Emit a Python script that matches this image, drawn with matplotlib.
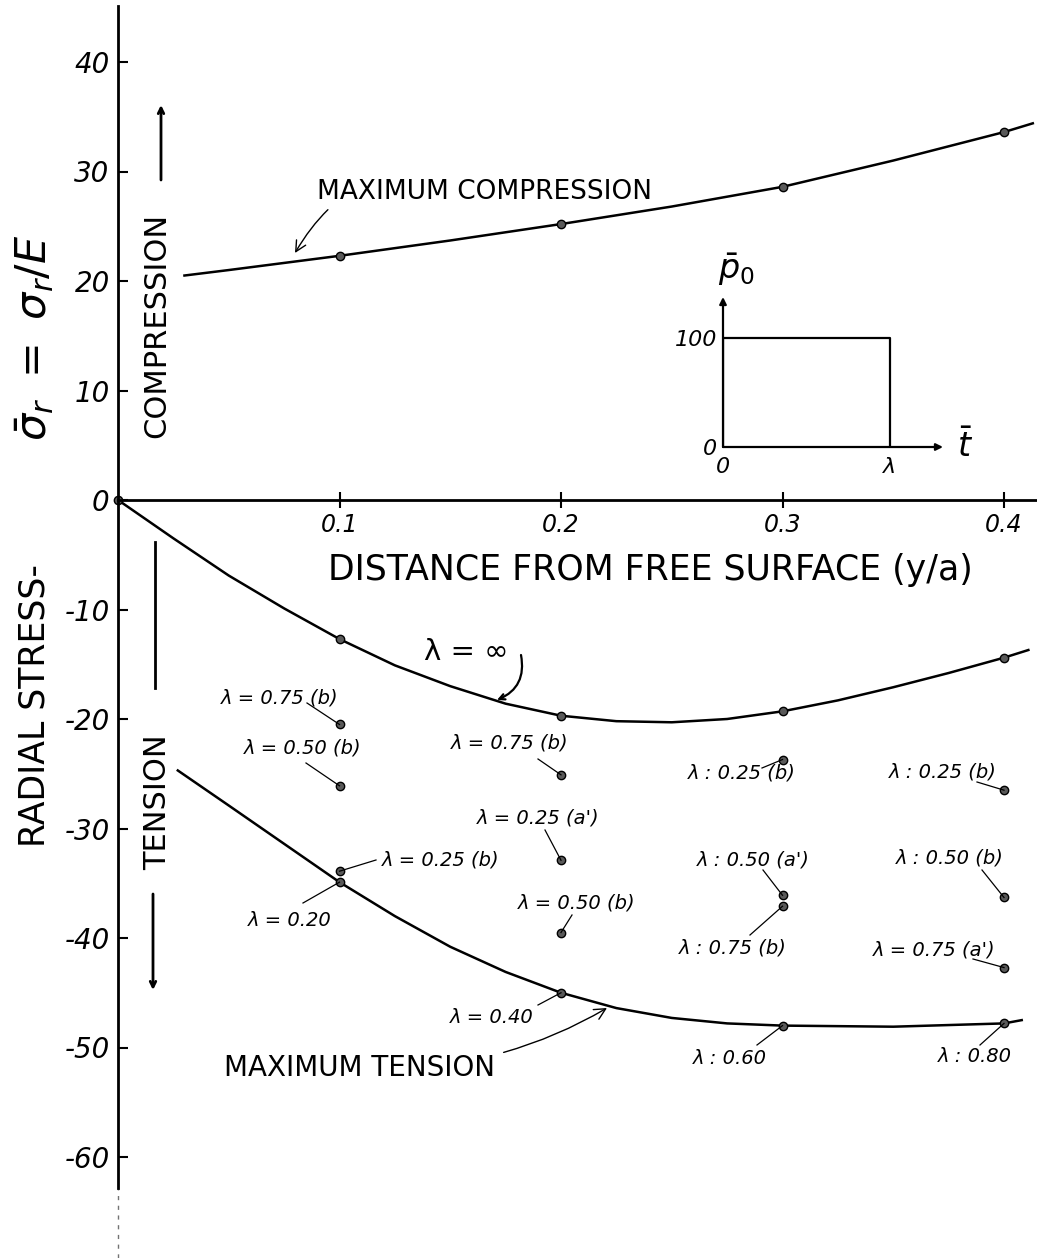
import numpy as np
import matplotlib.pyplot as plt

plt.rcParams['font.family'] = ['DejaVu Sans']

# curves: depth y/a and radial stress sigma_r/E
comp_depth = [0.030, 0.05, 0.1, 0.15, 0.2, 0.25, 0.3, 0.35, 0.4, 0.413]
comp_stress = [20.5, 21.0, 22.3, 23.7, 25.2, 26.8, 28.6, 31.0, 33.6, 34.4]

inf_depth = [0.0, 0.025, 0.05, 0.075, 0.1, 0.125, 0.15, 0.175, 0.2, 0.225, 0.25,
             0.275, 0.3, 0.325, 0.35, 0.375, 0.4, 0.411]
inf_stress = [0.0, -3.5, -6.9, -9.9, -12.7, -15.1, -17.0, -18.6, -19.7, -20.2, -20.3,
              -20.0, -19.3, -18.3, -17.1, -15.8, -14.4, -13.7]

tmax_depth = [0.027, 0.05, 0.075, 0.1, 0.125, 0.15, 0.175, 0.2, 0.225, 0.25, 0.275,
              0.3, 0.35, 0.4, 0.408]
tmax_stress = [-24.7, -27.9, -31.4, -34.9, -38.0, -40.8, -43.1, -45.0, -46.4, -47.3,
               -47.8, -48.0, -48.1, -47.8, -47.5]
tmax_lambda = ['λ = 0.20', 'λ = 0.40', 'λ : 0.60', 'λ : 0.80']

# isolated results for finite pulse durations
pt_depth = [0.1, 0.1, 0.1, 0.2, 0.2, 0.2, 0.3, 0.3, 0.3, 0.4, 0.4, 0.4]
pt_stress = [-20.5, -26.1, -33.9, -25.1, -32.9, -39.5, -23.7, -36.1, -37.1, -26.5, -36.3, -42.7]
pt_label = ['λ = 0.75 (b)', 'λ = 0.50 (b)', 'λ = 0.25 (b)',
            'λ = 0.75 (b)', "λ = 0.25 (a')", 'λ = 0.50 (b)',
            'λ : 0.25 (b)', "λ : 0.50 (a')", 'λ : 0.75 (b)',
            'λ : 0.25 (b)', 'λ : 0.50 (b)', "λ = 0.75 (a')"]

y_ticks = [-60, -50, -40, -30, -20, -10, 0, 10, 20, 30, 40]
x_ticks = [0.1, 0.2, 0.3, 0.4]
x_ticklabels = ['0.1', '0.2', '0.3', '0.4']

# inset: load pulse p0 vs time
pulse_t = [0, 0, 1, 1]
pulse_p = [0, 100, 100, 0]


def at(xp, yp):
    # sheet position in pixels -> data coordinates
    return (xp - 118) / 2215, (500 - yp) / 10.95


# label placement (pixels on the sheet): text centre, leader start
pt_text_px = [(280, 698), (303, 748), (382, 860),
              (510, 743), (538, 818), (577, 903),
              (742, 773), (753, 860), (733, 948),
              (943, 772), (950, 858), (934, 950)]
pt_lead_px = [(307, 703), (306, 763), (376, 860),
              (538, 759), (545, 830), (572, 915),
              (762, 768), (763, 870), (750, 935),
              (977, 782), (982, 870), (973, 959)]
tmax_text_px = [(290, 920), (492, 1017), (730, 1058), (975, 1057)]
tmax_lead_px = [(303, 903), (538, 1005), (757, 1045), (980, 1045)]

fig = plt.figure(figsize=(10.37, 12.58), dpi=100)
ax = fig.add_axes([0, 0, 1, 1])
x0, y0 = at(0, 1258)
x1, y1 = at(1037, 0)
ax.set_xlim(x0, x1)
ax.set_ylim(y0, y1)

for s in ['top', 'right']:
    ax.spines[s].set_visible(False)
ax.spines['left'].set_position(('data', 0))
ax.spines['bottom'].set_position(('data', 0))
ax.spines['left'].set_bounds(-62.8, 45.1)
ax.spines['bottom'].set_bounds(0, x1)
ax.spines['left'].set_linewidth(2.0)
ax.spines['bottom'].set_linewidth(2.0)
ax.axvline(0, ymin=0, ymax=(-62.8 - y0) / (y1 - y0), color='0.45', lw=1, ls=(0, (3, 4)))

ax.set_yticks(y_ticks)
ax.set_yticklabels([str(v) for v in y_ticks], fontsize=20, style='italic')
ax.tick_params(axis='y', direction='in', length=7, width=1.5, pad=6)
ax.set_xticks(x_ticks)
ax.set_xticklabels(x_ticklabels, fontsize=17, style='italic')
ax.tick_params(axis='x', direction='inout', length=12, width=1.5, pad=3)

# curves
mk = dict(marker='o', ms=6, mfc='0.35', mec='black', mew=1)
for d, s in [(comp_depth, comp_stress), (inf_depth, inf_stress), (tmax_depth, tmax_stress)]:
    d = np.array(d)
    idx = list(np.where(np.isclose(d[:, None], [0.0] + x_ticks).any(axis=1))[0])
    ax.plot(d, s, color='black', lw=1.8, markevery=idx, solid_joinstyle='round', **mk)

ax.plot(pt_depth, pt_stress, ls='none', **mk)

# point labels with leader lines
for k, (x, y, lab) in enumerate(zip(pt_depth, pt_stress, pt_label)):
    tx, ty = at(*pt_text_px[k])
    ha = 'left' if k == 2 else 'center'
    ax.text(tx, ty, lab, fontsize=14, style='italic', ha=ha, va='center')
    lx, ly = at(*pt_lead_px[k])
    ax.plot([lx, x], [ly, y], color='black', lw=0.9)

tm_d = np.array(tmax_depth)
for lab, tp, lp, xv in zip(tmax_lambda, tmax_text_px, tmax_lead_px, x_ticks):
    i = int(np.argmin(abs(tm_d - xv)))
    tx, ty = at(*tp)
    ax.text(tx, ty, lab, fontsize=14, style='italic', ha='center', va='center')
    lx, ly = at(*lp)
    ax.plot([lx, tmax_depth[i]], [ly, tmax_stress[i]], color='black', lw=0.9)

# curve names
ax.annotate('MAXIMUM COMPRESSION', xy=at(295, 253), xytext=at(317, 192),
            fontsize=19, ha='left', va='center',
            arrowprops=dict(arrowstyle='->', lw=1, color='black',
                            connectionstyle='arc3,rad=0.45', shrinkA=2, shrinkB=0))
ax.text(*at(466, 652), 'λ = ∞', fontsize=21, ha='center', va='center')
ax.annotate('', xy=at(497, 700), xytext=at(521, 655),
            arrowprops=dict(arrowstyle='->', lw=1.6, color='black',
                            connectionstyle='arc3,rad=-0.4', shrinkA=0, shrinkB=0))
ax.annotate('MAXIMUM TENSION', xy=at(607, 1008), xytext=at(360, 1068),
            fontsize=20, ha='center', va='center',
            arrowprops=dict(arrowstyle='->', lw=1, color='black',
                            connectionstyle='arc3,rad=0.15', shrinkA=4, shrinkB=0))

# axis titles
ax.text(*at(650, 570), 'DISTANCE FROM FREE SURFACE (y/a)', fontsize=25,
        ha='center', va='center')
ax.text(*at(35, 705), 'RADIAL STRESS-', fontsize=25, rotation=90,
        ha='center', va='center')
ax.text(*at(35, 338), r'$\bar{\sigma}_r\ =\ \sigma_r/E$', fontsize=31, rotation=90,
        ha='center', va='center')

# compression / tension direction marks
ax.text(*at(157, 325), 'COMPRESSION', fontsize=22, rotation=90, ha='center', va='center')
ax.annotate('', xy=at(161, 105), xytext=at(161, 180),
            arrowprops=dict(arrowstyle='->', lw=2, color='black', shrinkA=0, shrinkB=0))
ax.plot(*zip(at(155, 542), at(155, 688)), color='black', lw=2)
ax.text(*at(158, 802), 'TENSION', fontsize=22, rotation=90, ha='center', va='center')
ax.annotate('', xy=at(153, 990), xytext=at(153, 894),
            arrowprops=dict(arrowstyle='->', lw=2, color='black', shrinkA=0, shrinkB=0))

# inset with the applied pulse
ins = fig.add_axes([723 / 1037, 1 - 447 / 1258, 220 / 1037, 150 / 1258])
ins.patch.set_alpha(0)
ins.set_xlim(0, 1.317)
ins.set_ylim(0, 137.6)
for s in ins.spines.values():
    s.set_visible(False)
ins.plot(pulse_t, pulse_p, color='black', lw=1.6)
ins.set_xticks([0, 1])
ins.set_xticklabels(['0', 'λ'], fontsize=16, style='italic')
ins.set_yticks([0, 100])
ins.set_yticklabels(['0', '100'], fontsize=16, style='italic')
ins.tick_params(length=0, pad=4)
ins.tick_params(axis='x', pad=7)
ins.annotate('', xy=(1, 0), xytext=(0, 0), xycoords='axes fraction',
             arrowprops=dict(arrowstyle='-|>', lw=1.6, color='black', shrinkA=0, shrinkB=0))
ins.annotate('', xy=(0, 1), xytext=(0, 0), xycoords='axes fraction',
             arrowprops=dict(arrowstyle='-|>', lw=1.6, color='black', shrinkA=0, shrinkB=0))
ins.text(0.06, 1.06, r'$\bar{p}_0$', transform=ins.transAxes, fontsize=24,
         ha='center', va='bottom')
ins.text(1.1, 0.0, r'$\bar{t}$', transform=ins.transAxes, fontsize=24,
         ha='center', va='center')

fig.savefig('out.png', dpi=100, facecolor='white')
